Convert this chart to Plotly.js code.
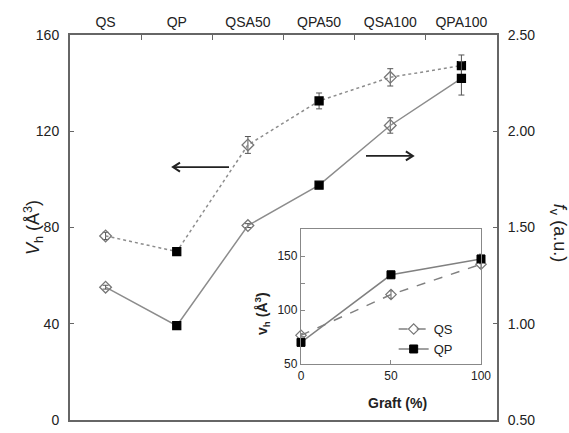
<!DOCTYPE html>
<html>
<head>
<meta charset="utf-8">
<script src="https://cdn.plot.ly/plotly-3.0.1.min.js"></script>
<style>
html,body{margin:0;padding:0;background:#fff;}
#chart{width:569px;height:433px;}
</style>
</head>
<body>
<div id="chart"></div>
<script>
// ---- data ----
const categories = ['QS', 'QP', 'QSA50', 'QPA50', 'QSA100', 'QPA100'];
const vh = [76.5, 70.0, 114.3, 132.6, 142.4, 147.3];        // left axis (Å^3)
const vhErr = [1.5, null, 3.5, 3.3, 3.6, 4.4];
const fv = [1.19, 0.99, 1.51, 1.72, 2.03, 2.275];            // right axis (a.u.)
const fvErr = [0.01, null, 0.01, null, 0.04, 0.087];
const sampleType = ['QS', 'QP', 'QS', 'QP', 'QS', 'QP'];
const graft = [0, 50, 100];
const insetQS = [vh[0], vh[2], vh[4]];
const insetQSErr = [vhErr[0], vhErr[2], vhErr[4]];
const insetQP = [vh[1], vh[3], vh[5]];
const insetQPErr = [vhErr[1], vhErr[3], vhErr[5]];

// ---- styles ----
const FONT = '"Liberation Sans", Arial, sans-serif';
const symbols = sampleType.map(t => t === 'QS' ? 'diamond-open' : 'square');
const mcolors = sampleType.map(t => t === 'QS' ? '#777777' : '#000000');
const msizes = sampleType.map(t => t === 'QS' ? 9 : 8);

const traces = [
  {
    x: categories, y: vh, type: 'scatter', mode: 'lines+markers',
    xaxis: 'x', yaxis: 'y', showlegend: false,
    line: {color: '#8c8c8c', width: 1.5, dash: 'dot'},
    marker: {symbol: symbols, color: mcolors, size: msizes, opacity: 1, line: {width: 1.3, color: mcolors}},
    error_y: {type: 'data', array: vhErr, visible: true, color: '#555', thickness: 1, width: 3}
  },
  {
    x: categories, y: fv, type: 'scatter', mode: 'lines+markers',
    xaxis: 'x', yaxis: 'y2', showlegend: false,
    line: {color: '#8c8c8c', width: 1.5},
    marker: {symbol: symbols, color: mcolors, size: msizes, opacity: 1, line: {width: 1.3, color: mcolors}},
    error_y: {type: 'data', array: fvErr, visible: true, color: '#555', thickness: 1, width: 3}
  },
  {
    x: graft, y: insetQS, type: 'scatter', mode: 'lines+markers', name: 'QS',
    xaxis: 'x3', yaxis: 'y3', cliponaxis: false,
    line: {color: '#808080', width: 1.5, dash: 'dash'},
    marker: {symbol: 'diamond-open', color: '#777', size: 8, line: {width: 1.2, color: '#777'}},
    error_y: {type: 'data', array: insetQSErr, visible: true, color: '#666', thickness: 1, width: 2}
  },
  {
    x: graft, y: insetQP, type: 'scatter', mode: 'lines+markers', name: 'QP',
    xaxis: 'x3', yaxis: 'y3', cliponaxis: false,
    line: {color: '#808080', width: 1.5},
    marker: {symbol: 'square', color: '#000', size: 8, line: {width: 1, color: '#000'}},
    error_y: {type: 'data', array: insetQPErr, visible: true, color: '#666', thickness: 1, width: 2}
  }
];

const axisLine = '#666666';
// arrow helper (paper coordinates, main plot area 427 x 385 px)
const PX = 1 / 427, PY = 1 / 385;
function arrow(xTail, xHead, y) {
  const dir = xHead < xTail ? 1 : -1;
  return [
    {type: 'line', xref: 'paper', yref: 'paper', x0: xTail, x1: xHead, y0: y, y1: y,
     line: {color: '#222', width: 1.8}},
    {type: 'path', xref: 'paper', yref: 'paper',
     path: `M ${xHead + dir * 7 * PX},${y + 4.5 * PY} L ${xHead},${y} L ${xHead + dir * 7 * PX},${y - 4.5 * PY}`,
     line: {color: '#222', width: 2}}
  ];
}

const layout = {
  width: 569, height: 433,
  margin: {l: 70, r: 72, t: 35, b: 13},
  paper_bgcolor: '#fff', plot_bgcolor: '#fff',
  font: {family: FONT, size: 14, color: '#222'},
  xaxis: {
    type: 'category', categoryorder: 'array', categoryarray: categories,
    side: 'top', anchor: 'y', range: [-0.5, 5.5],
    tickson: 'boundaries', ticks: 'inside', ticklen: 5, tickcolor: axisLine,
    showline: true, linecolor: axisLine, linewidth: 2, mirror: true,
    showgrid: false, zeroline: false, tickfont: {size: 14}
  },
  yaxis: {
    range: [0, 160], dtick: 40, tick0: 0, anchor: 'x',
    ticks: 'inside', ticklen: 4, tickcolor: axisLine,
    showline: true, linecolor: axisLine, linewidth: 2,
    showgrid: false, zeroline: false, ticklabelstandoff: 6, tickfont: {size: 14}
  },
  yaxis2: {
    range: [0.5, 2.5], dtick: 0.5, tick0: 0.5, tickformat: '.2f',
    overlaying: 'y', side: 'right', anchor: 'x',
    ticks: 'inside', ticklen: 4, tickcolor: axisLine,
    showline: true, linecolor: axisLine, linewidth: 2,
    showgrid: false, zeroline: false, ticklabelstandoff: 6, tickfont: {size: 14}
  },
  xaxis3: {
    domain: [0.541, 0.9625], anchor: 'y3', range: [0, 100],
    tickvals: [0, 50, 100], ticks: 'inside', ticklen: 4, tickcolor: '#888',
    showline: true, linecolor: '#888', linewidth: 1.2, mirror: true,
    showgrid: false, zeroline: false, tickfont: {size: 12}
  },
  yaxis3: {
    domain: [0.1455, 0.496], anchor: 'x3', range: [50, 175],
    tick0: 50, dtick: 50,
    ticks: 'inside', ticklen: 4, tickcolor: '#888',
    minor: {tick0: 50, dtick: 25, ticks: 'inside', ticklen: 4, tickcolor: '#888', showgrid: false},
    showline: true, linecolor: '#888', linewidth: 1.2, mirror: true,
    showgrid: false, zeroline: false, tickfont: {size: 12}
  },
  legend: {
    x: 0.758, y: 0.275, xanchor: 'left', yanchor: 'top',
    bgcolor: 'rgba(0,0,0,0)', font: {size: 13}, itemwidth: 30,
    tracegroupgap: 0
  },
  shapes: [].concat(arrow(0.3724, 0.2412, 0.657), arrow(0.6932, 0.803, 0.686)),
  annotations: [
    {xref: 'paper', yref: 'paper', x: -0.087, y: 0.501, xanchor: 'center', yanchor: 'middle',
     text: '<i>V</i><sub>h</sub> (Å<sup>3</sup>)', textangle: -90, showarrow: false,
     font: {size: 18, color: '#222'}},
    {xref: 'paper', yref: 'paper', x: 1.143, y: 0.486, xanchor: 'center', yanchor: 'middle',
     text: '<i>f</i><sub>v</sub> (a.u.)', textangle: 90, showarrow: false,
     font: {size: 18, color: '#222'}},
    {xref: 'paper', yref: 'paper', x: 0.4496, y: 0.278, xanchor: 'center', yanchor: 'middle',
     text: '<b>v<sub>h</sub> (Å<sup>3</sup>)</b>', textangle: -90, showarrow: false,
     font: {size: 14, color: '#222'}},
    {xref: 'paper', yref: 'paper', x: 0.766, y: 0.044, xanchor: 'center', yanchor: 'middle',
     text: '<b>Graft (%)</b>', showarrow: false, font: {size: 14, color: '#222'}}
  ]
};

Plotly.newPlot('chart', traces, layout, {displayModeBar: false, staticPlot: true});
</script>
</body>
</html>
